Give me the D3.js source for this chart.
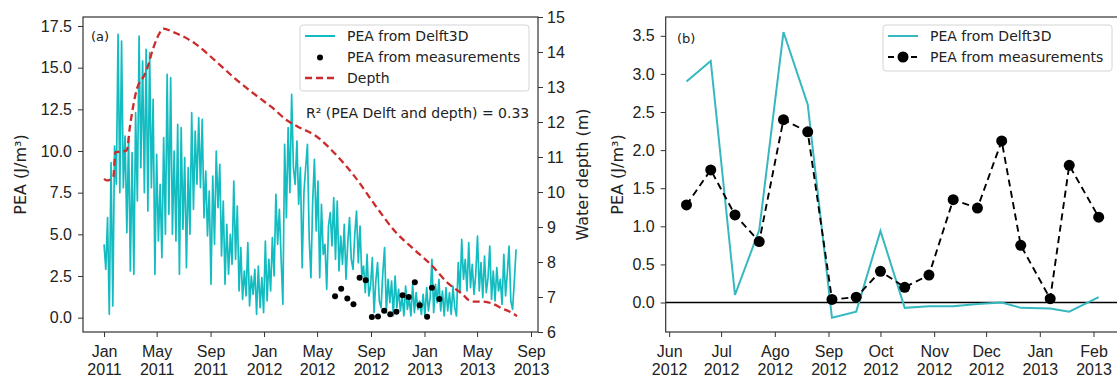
<!DOCTYPE html>
<html>
<head>
<meta charset="utf-8">
<script src="https://cdn.jsdelivr.net/npm/d3@7/dist/d3.min.js"></script>
<style>
  html, body { margin: 0; padding: 0; background: #fff; }
  svg { display: block; font-family: "DejaVu Sans", sans-serif; }
</style>
</head>
<body>
<svg id="chart" width="1117" height="378"></svg>
<script>
// ---------- Panel (a): modelled PEA series, one value every 4 days from 2011-01-01 ----------
const peaStart = "2011-01-01";
const peaStepDays = 4;
const peaDelft = [
  4.4, 2.9, 6.0, 0.2, 9.3, 0.7, 10.3, 8.0, 17.0, 7.5,
  16.6, 7.8, 10.9, 5.1, 10.8, 2.8, 9.9, 2.6, 12.3, 7.0,
  16.9, 9.0, 15.4, 7.5, 16.1, 6.4, 15.9, 7.8, 13.1, 2.6,
  9.8, 4.6, 8.0, 3.6, 10.8, 5.0, 14.6, 6.2, 14.4, 5.0,
  10.0, 4.6, 11.6, 2.6, 11.4, 5.3, 9.6, 3.0, 9.0, 5.0,
  12.3, 6.5, 11.2, 8.0, 12.0, 7.8, 11.9, 6.0, 8.8, 4.9,
  7.6, 2.0, 8.5, 4.4, 10.0, 6.6, 9.2, 3.7, 7.0, 2.0,
  5.6, 2.6, 5.0, 3.2, 8.2, 3.5, 6.7, 1.6, 4.2, 1.1,
  2.8, 1.3, 4.5, 0.7, 2.5, 1.4, 2.9, 0.2, 3.1, 0.6,
  2.4, 0.3, 4.6, 1.0, 3.5, 1.6, 4.8, 2.5, 7.4, 4.4,
  6.5, 3.5, 0.8, 10.4, 6.0, 11.4, 7.5, 13.4, 9.0, 8.0,
  10.6, 6.8, 9.0, 3.0, 7.5, 9.0, 10.4, 4.8, 2.4, 7.0,
  9.5, 5.2, 8.2, 2.4, 6.8, 3.8, 4.4, 1.7, 5.5, 6.3,
  4.3, 7.2, 3.5, 7.0, 2.8, 4.9, 3.2, 5.6, 2.3, 4.5,
  6.0, 3.5, 2.9, 5.0, 6.4, 3.3, 5.5, 2.5, 3.1, 1.5,
  3.8, 1.3, 1.9, 3.6, 0.3, 2.2, 3.3, 1.0, 0.6, 2.7,
  4.2, 0.3, 2.3, 0.9, 2.2, 0.1, 2.5, 0.6, 1.7, 0.4,
  1.3, 0.1, 1.9, 0.5, 1.2, 0.1, 2.0, 0.3, 1.5, 0.5,
  1.0, 0.2, 1.4, 0.1, 1.8, 0.4, 1.2, 3.5, 0.3, 2.0,
  0.9, 2.3, 0.4, 1.6, 0.1, 1.8, 0.4, 1.5, 0.2, 1.9,
  0.6, 0.1, 3.3, 1.5, 4.7, 2.3, 3.5, 1.6, 4.5, 1.8,
  3.2, 1.4, 2.6, 4.9, 1.6, 3.3, 1.2, 3.7, 1.5, 2.4,
  4.3, 1.1, 2.8, 1.0, 3.0, 1.6, 2.3, 0.8, 3.8, 1.3,
  2.7, 4.3, 1.0, 0.5, 2.2, 4.1
];

// Water depth (right axis of panel a)
const depthDates = [
  "2011-01-01", "2011-01-07", "2011-01-22", "2011-01-27", "2011-02-06", "2011-02-22",
  "2011-03-01", "2011-03-17", "2011-04-01", "2011-04-08", "2011-04-23", "2011-05-09",
  "2011-05-16", "2011-06-08", "2011-07-28", "2011-09-11", "2011-10-27", "2011-12-19",
  "2012-01-18", "2012-02-22", "2012-03-19", "2012-04-26", "2012-06-18", "2012-07-26",
  "2012-09-10", "2012-10-26", "2012-12-10", "2013-01-17", "2013-02-24", "2013-03-27",
  "2013-04-19", "2013-05-12", "2013-06-03", "2013-06-26", "2013-07-27", "2013-07-31"
];
const depthValues = [
  10.38, 10.33, 10.43, 11.14, 11.15, 11.19,
  11.86, 12.95, 13.29, 13.48, 14.10, 14.57,
  14.67, 14.57, 14.24, 13.76, 13.24, 12.71,
  12.43, 12.05, 11.86, 11.62, 11.00, 10.44,
  9.63, 8.87, 8.34, 7.91, 7.39, 7.10,
  6.87, 6.87, 6.82, 6.68, 6.49, 6.45
];

// ---------- Measurement campaign (both panels) ----------
const measDates = [
  "2012-06-11", "2012-06-25", "2012-07-09", "2012-07-23", "2012-08-06", "2012-08-20",
  "2012-09-03", "2012-09-17", "2012-10-01", "2012-10-15", "2012-10-29", "2012-11-12",
  "2012-11-26", "2012-12-10", "2012-12-21", "2013-01-07", "2013-01-18", "2013-02-04"
];
const peaMeasured = [
  1.28, 1.74, 1.15, 0.80, 2.40, 2.24,
  0.04, 0.07, 0.41, 0.20, 0.36, 1.35,
  1.24, 2.12, 0.75, 0.05, 1.80, 1.12
];
const peaModelAtMeas = [
  2.90, 3.17, 0.10, 0.95, 3.55, 2.60,
  -0.20, -0.12, 0.94, -0.07, -0.05, -0.05,
  -0.02, 0.00, -0.07, -0.08, -0.12, 0.07
];

// ---------- Tick labels ----------
const ticksA = ["2011-01-01", "2011-05-01", "2011-09-01", "2012-01-01", "2012-05-01",
                "2012-09-01", "2013-01-01", "2013-05-01", "2013-09-01"];
const tickLabelsA = ["Jan|2011", "May|2011", "Sep|2011", "Jan|2012", "May|2012",
                     "Sep|2012", "Jan|2013", "May|2013", "Sep|2013"];
const ticksB = ["2012-06-01", "2012-07-01", "2012-08-01", "2012-09-01", "2012-10-01",
                "2012-11-01", "2012-12-01", "2013-01-01", "2013-02-01"];
const tickLabelsB = ["Jun|2012", "Jul|2012", "Ago|2012", "Sep|2012", "Oct|2012",
                     "Nov|2012", "Dec|2012", "Jan|2013", "Feb|2013"];
const peaTicksA = [0, 2.5, 5, 7.5, 10, 12.5, 15, 17.5];
const depthTicks = [6, 7, 8, 9, 10, 11, 12, 13, 14, 15];
const peaTicksB = [0, 0.5, 1, 1.5, 2, 2.5, 3, 3.5];

// ---------- Setup ----------
const parse = d3.utcParse("%Y-%m-%d");
const svg = d3.select("#chart");
const CYAN_A = "#12bcc0";
const CYAN_B = "#35b8c0";
const RED = "#cc2b2b";
const SPINE = "#333";
const TXT = "#222";

const peaSeries = peaDelft.map((v, i) => ({ t: d3.utcDay.offset(parse(peaStart), i * peaStepDays), v }));
const depthSeries = depthDates.map((d, i) => ({ t: parse(d), v: depthValues[i] }));
const meas = measDates.map((d, i) => ({ t: parse(d), v: peaMeasured[i], m: peaModelAtMeas[i] }));

function styleAxis(g, fontSize) {
  g.select(".domain").remove();
  g.selectAll(".tick line").attr("stroke", SPINE).attr("stroke-width", 1);
  g.selectAll(".tick text").attr("fill", TXT).style("font-size", fontSize + "px");
}

function twoLineTicks(g, labels) {
  g.selectAll(".tick text").each(function (d, i) {
    const t = d3.select(this);
    const parts = labels[i].split("|");
    t.text(null).attr("y", 0).attr("dy", null);
    t.append("tspan").attr("x", 0).attr("y", 25).text(parts[0]);
    t.append("tspan").attr("x", 0).attr("y", 43).text(parts[1]);
  });
}

function frame(x0, y0, x1, y1) {
  svg.append("rect").attr("x", x0).attr("y", y0).attr("width", x1 - x0).attr("height", y1 - y0)
    .attr("fill", "none").attr("stroke", SPINE).attr("stroke-width", 1.2);
}

// ================= Panel (a) =================
const A = { left: 83, right: 538, top: 17, bottom: 332 };
const xA = d3.scaleUtc().domain([parse("2010-11-14"), parse("2013-09-17")]).range([A.left, A.right]);
const yA = d3.scaleLinear().domain([-0.86, 18.04]).range([A.bottom, A.top]);
const yD = d3.scaleLinear().domain([6, 15]).range([A.bottom, A.top]);

svg.append("clipPath").attr("id", "clipA").append("rect")
  .attr("x", A.left).attr("y", A.top).attr("width", A.right - A.left).attr("height", A.bottom - A.top);

const gA = svg.append("g").attr("clip-path", "url(#clipA)");
gA.append("path").datum(peaSeries)
  .attr("d", d3.line().x(d => xA(d.t)).y(d => yA(d.v)))
  .attr("fill", "none").attr("stroke", CYAN_A).attr("stroke-width", 1.7).attr("stroke-linejoin", "round");
gA.selectAll("circle.meas").data(meas).join("circle").attr("class", "meas")
  .attr("cx", d => xA(d.t)).attr("cy", d => yA(d.v)).attr("r", 3).attr("fill", "#000");
gA.append("path").datum(depthSeries)
  .attr("d", d3.line().curve(d3.curveMonotoneX).x(d => xA(d.t)).y(d => yD(d.v)))
  .attr("fill", "none").attr("stroke", RED).attr("stroke-width", 2.3).attr("stroke-dasharray", "7,4");

frame(A.left, A.top, A.right, A.bottom);

svg.append("g").attr("transform", `translate(${A.left},0)`)
  .call(d3.axisLeft(yA).tickValues(peaTicksA).tickFormat(d3.format(".1f")).tickSize(5).tickPadding(6))
  .call(g => styleAxis(g, 16));
svg.append("g").attr("transform", `translate(${A.right},0)`)
  .call(d3.axisRight(yD).tickValues(depthTicks).tickFormat(d3.format("d")).tickSize(5).tickPadding(4))
  .call(g => styleAxis(g, 16));
svg.append("g").attr("transform", `translate(0,${A.bottom})`)
  .call(d3.axisBottom(xA).tickValues(ticksA.map(parse)).tickSize(5))
  .call(g => styleAxis(g, 16))
  .call(g => twoLineTicks(g, tickLabelsA));

svg.append("text").attr("transform", `translate(20,${(A.top + A.bottom) / 2}) rotate(-90)`)
  .attr("text-anchor", "middle").attr("dy", "0.35em").attr("fill", TXT).style("font-size", "16px")
  .text("PEA (J/m³)");
svg.append("text").attr("transform", `translate(582,${(A.top + A.bottom) / 2}) rotate(-90)`)
  .attr("text-anchor", "middle").attr("dy", "0.35em").attr("fill", TXT).style("font-size", "16px")
  .text("Water depth (m)");
svg.append("text").attr("x", 91).attr("y", 41).attr("fill", TXT).style("font-size", "13px").text("(a)");

// legend (a)
svg.append("rect").attr("x", 300).attr("y", 25).attr("width", 229).attr("height", 66).attr("rx", 3)
  .attr("fill", "#fff").attr("fill-opacity", 0.85).attr("stroke", "#d4d4d4");
svg.append("line").attr("x1", 305).attr("x2", 335).attr("y1", 36).attr("y2", 36)
  .attr("stroke", CYAN_A).attr("stroke-width", 2);
svg.append("circle").attr("cx", 320).attr("cy", 57.5).attr("r", 3).attr("fill", "#000");
svg.append("line").attr("x1", 305).attr("x2", 335).attr("y1", 78).attr("y2", 78)
  .attr("stroke", RED).attr("stroke-width", 2.3).attr("stroke-dasharray", "7,4");
[["PEA from Delft3D", 36], ["PEA from measurements", 57.5], ["Depth", 78]].forEach(([t, y]) =>
  svg.append("text").attr("x", 347).attr("y", y).attr("dy", "0.35em").attr("fill", TXT)
    .style("font-size", "14px").text(t));
svg.append("text").attr("x", 306).attr("y", 113).attr("dy", "0.35em").attr("fill", TXT)
  .style("font-size", "14px").text("R² (PEA Delft and depth) = 0.33");

// ================= Panel (b) =================
const B = { left: 665.7, right: 1121.2, top: 17, bottom: 332 };
const xB = d3.scaleUtc().domain([parse("2012-05-30"), parse("2013-02-17")]).range([B.left, B.right]);
const yB = d3.scaleLinear().domain([-0.387, 3.747]).range([B.bottom, B.top]);

svg.append("clipPath").attr("id", "clipB").append("rect")
  .attr("x", B.left).attr("y", B.top).attr("width", B.right - B.left).attr("height", B.bottom - B.top);
const gB = svg.append("g").attr("clip-path", "url(#clipB)");

gB.append("line").attr("x1", B.left).attr("x2", B.right).attr("y1", yB(0)).attr("y2", yB(0))
  .attr("stroke", "#000").attr("stroke-width", 1.6);
gB.append("path").datum(meas)
  .attr("d", d3.line().x(d => xB(d.t)).y(d => yB(d.m)))
  .attr("fill", "none").attr("stroke", CYAN_B).attr("stroke-width", 2);
gB.append("path").datum(meas)
  .attr("d", d3.line().x(d => xB(d.t)).y(d => yB(d.v)))
  .attr("fill", "none").attr("stroke", "#000").attr("stroke-width", 1.9).attr("stroke-dasharray", "7,4.5");
gB.selectAll("circle.mb").data(meas).join("circle").attr("class", "mb")
  .attr("cx", d => xB(d.t)).attr("cy", d => yB(d.v)).attr("r", 5.5).attr("fill", "#000");

frame(B.left, B.top, B.right, B.bottom);

svg.append("g").attr("transform", `translate(${B.left},0)`)
  .call(d3.axisLeft(yB).tickValues(peaTicksB).tickFormat(d3.format(".1f")).tickSize(5).tickPadding(6))
  .call(g => styleAxis(g, 16));
svg.append("g").attr("transform", `translate(0,${B.bottom})`)
  .call(d3.axisBottom(xB).tickValues(ticksB.map(parse)).tickSize(5))
  .call(g => styleAxis(g, 16))
  .call(g => twoLineTicks(g, tickLabelsB));

svg.append("text").attr("transform", `translate(617,${(B.top + B.bottom) / 2}) rotate(-90)`)
  .attr("text-anchor", "middle").attr("dy", "0.35em").attr("fill", TXT).style("font-size", "16px")
  .text("PEA (J/m³)");
svg.append("text").attr("x", 677).attr("y", 43).attr("fill", TXT).style("font-size", "13px").text("(b)");

// legend (b)
svg.append("rect").attr("x", 883).attr("y", 25).attr("width", 229).attr("height", 46).attr("rx", 3)
  .attr("fill", "#fff").attr("fill-opacity", 0.85).attr("stroke", "#d4d4d4");
svg.append("line").attr("x1", 888).attr("x2", 918).attr("y1", 36).attr("y2", 36)
  .attr("stroke", CYAN_B).attr("stroke-width", 2);
svg.append("line").attr("x1", 888).attr("x2", 918).attr("y1", 57).attr("y2", 57)
  .attr("stroke", "#000").attr("stroke-width", 1.9).attr("stroke-dasharray", "6,5.5");
svg.append("circle").attr("cx", 903).attr("cy", 57).attr("r", 5.5).attr("fill", "#000");
[["PEA from Delft3D", 36], ["PEA from measurements", 57]].forEach(([t, y]) =>
  svg.append("text").attr("x", 930).attr("y", y).attr("dy", "0.35em").attr("fill", TXT)
    .style("font-size", "14px").text(t));
</script>
</body>
</html>
